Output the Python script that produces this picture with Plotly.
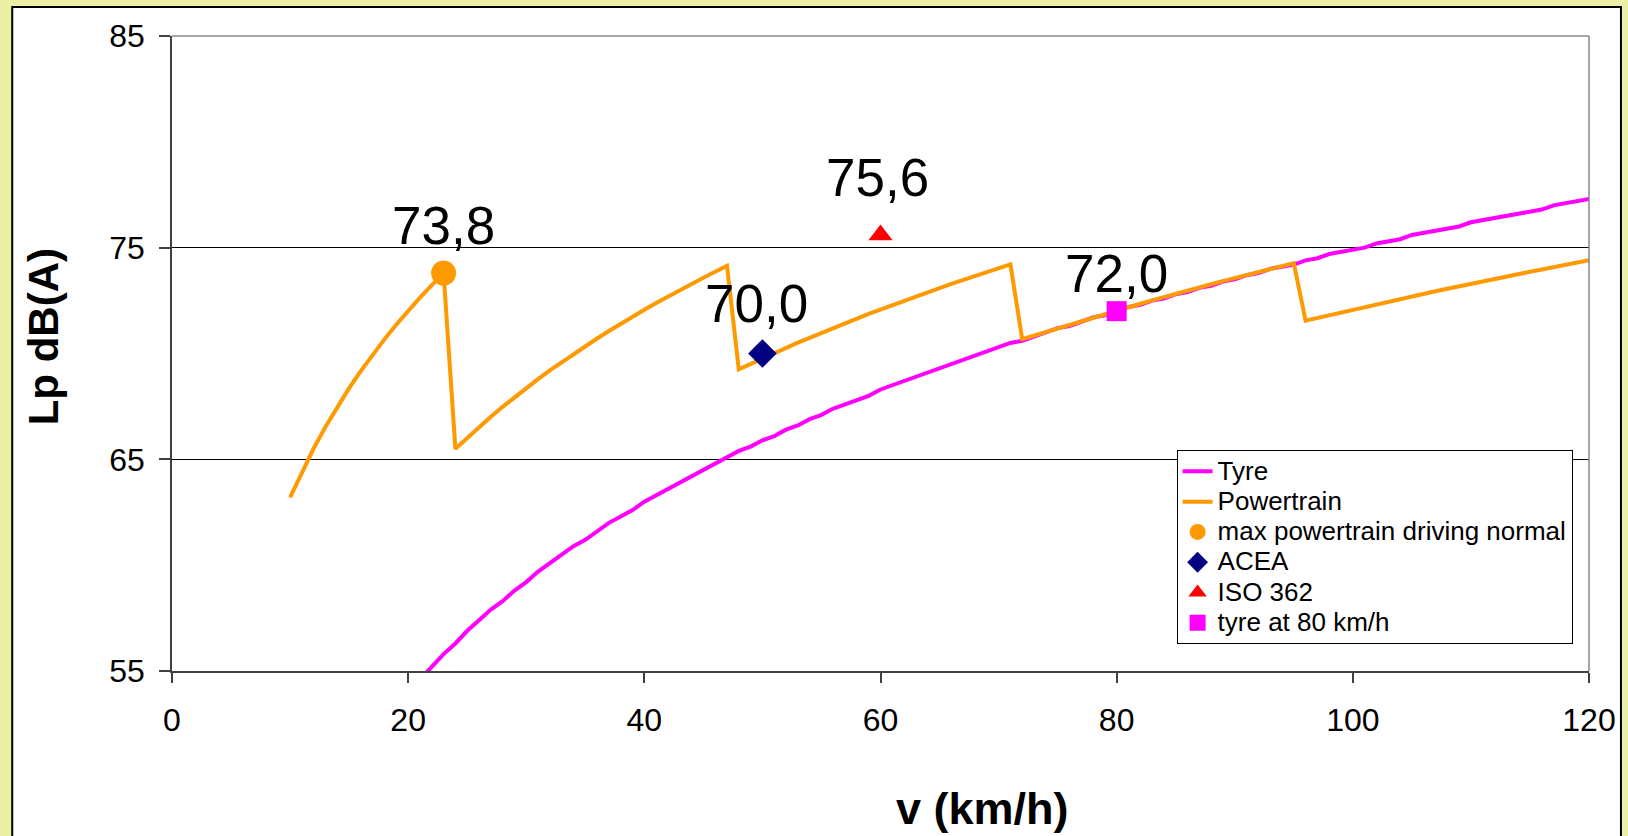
import plotly.graph_objects as go

# Speed grid (km/h)
tyre_speed = list(range(21, 121))
powertrain_speed = list(range(10, 121))

# Tyre/road noise, dB(A)
tyre_db = [
    54.6, 55.2, 55.8, 56.3, 56.9, 57.4, 57.9, 58.3, 58.8, 59.2,
    59.7, 60.1, 60.5, 60.9, 61.2, 61.6, 62.0, 62.3, 62.6, 63.0,
    63.3, 63.6, 63.9, 64.2, 64.5, 64.8, 65.1, 65.4, 65.6, 65.9,
    66.1, 66.4, 66.6, 66.9, 67.1, 67.4, 67.6, 67.8, 68.0, 68.3,
    68.5, 68.7, 68.9, 69.1, 69.3, 69.5, 69.7, 69.9, 70.1, 70.3,
    70.5, 70.6, 70.8, 71.0, 71.2, 71.3, 71.5, 71.7, 71.8, 72.0,
    72.2, 72.3, 72.5, 72.6, 72.8, 72.9, 73.1, 73.2, 73.4, 73.5,
    73.7, 73.8, 74.0, 74.1, 74.2, 74.4, 74.5, 74.7, 74.8, 74.9,
    75.0, 75.2, 75.3, 75.4, 75.6, 75.7, 75.8, 75.9, 76.0, 76.2,
    76.3, 76.4, 76.5, 76.6, 76.7, 76.8, 77.0, 77.1, 77.2, 77.3,
]

# Powertrain noise through the gears, dB(A)
powertrain_db = [
    # 10-23 km/h
    63.20, 64.41, 65.52, 66.54, 67.48, 68.36, 69.18, 69.95, 70.68, 71.37,
    72.02, 72.64, 73.23, 73.80,
    # 24-47 km/h
    65.50, 66.02, 66.53, 67.01, 67.48, 67.93, 68.37, 68.79, 69.20, 69.59,
    69.98, 70.35, 70.71, 71.06, 71.41, 71.74, 72.07, 72.38, 72.69, 73.00,
    73.29, 73.58, 73.86, 74.14,
    # 48-71 km/h
    69.25, 69.51, 69.77, 70.02, 70.27, 70.51, 70.74, 70.98, 71.21, 71.43,
    71.65, 71.87, 72.08, 72.29, 72.50, 72.70, 72.90, 73.09, 73.29, 73.48,
    73.67, 73.85, 74.03, 74.21,
    # 72-95 km/h
    70.68, 70.85, 71.03, 71.20, 71.37, 71.54, 71.70, 71.87, 72.03, 72.20,
    72.35, 72.51, 72.67, 72.82, 72.97, 73.13, 73.27, 73.42, 73.57, 73.71,
    73.85, 73.99, 74.13, 74.27,
    # 96-120 km/h
    71.55, 71.68, 71.81, 71.94, 72.07, 72.20, 72.33, 72.45, 72.58, 72.70,
    72.82, 72.94, 73.06, 73.18, 73.29, 73.41, 73.53, 73.64, 73.75, 73.86,
    73.97, 74.08, 74.19, 74.30, 74.41,
]

# Reference operating points
point_names = ["max powertrain driving normal", "ACEA", "ISO 362", "tyre at 80 km/h"]
point_speed = [23, 50, 60, 80]
point_db = [73.8, 70.0, 75.6, 72.0]

x_ticks = [0, 20, 40, 60, 80, 100, 120]
y_ticks = [55, 65, 75, 85]

# Marker styles and label offsets (px) for the reference points
point_symbol = ["circle", "diamond", "triangle-up", "square"]
point_color = ["#FF9900", "#000080", "#FF0000", "#FF00FF"]
point_size = [25, 22, 21, 20]
label_dx = [0, -6, -3, 0]
label_dy = [48, 50, 57, 38]

FONT = "Arial, Liberation Sans, sans-serif"

# Pixel layout of the plot area inside the 1628x836 canvas
W, H = 1628, 836
PL, PR, PT, PB = 172, 1591, 36, 670.7


def px(x):
    return (x - PL) / (PR - PL)


def py(y):
    return (PB - y) / (PB - PT)


def legend_label(text):
    # 26px legend text on compact (21px) legend rows
    return f'<span style="font-size:26px">{text}</span>'


fig = go.Figure()

fig.add_trace(go.Scatter(
    x=tyre_speed, y=tyre_db, mode="lines", name=legend_label("Tyre"),
    line=dict(color="#FF00FF", width=4),
))
fig.add_trace(go.Scatter(
    x=powertrain_speed, y=powertrain_db, mode="lines",
    name=legend_label("Powertrain"),
    line=dict(color="#FF9900", width=4),
))

for i, name in enumerate(point_names):
    fig.add_trace(go.Scatter(
        x=[point_speed[i]], y=[point_db[i]], mode="markers",
        name=legend_label(name),
        marker=dict(symbol=point_symbol[i], color=point_color[i],
                    size=point_size[i], line=dict(width=0)),
        cliponaxis=False,
    ))
    fig.add_annotation(
        x=point_speed[i], y=point_db[i], xref="x", yref="y",
        text=f"{point_db[i]:.1f}".replace(".", ","),
        showarrow=False, xanchor="center", yanchor="middle",
        xshift=label_dx[i], yshift=label_dy[i],
        font=dict(family=FONT, size=53, color="#000000"),
    )

# Axis titles
fig.add_annotation(
    x=px(984), y=py(808), xref="paper", yref="paper",
    text="<b>v (km/h)</b>", showarrow=False,
    xanchor="center", yanchor="middle",
    font=dict(family=FONT, size=45, color="#000000"),
)
fig.add_annotation(
    x=px(43), y=py(337), xref="paper", yref="paper",
    text="<b>Lp dB(A)</b>", showarrow=False, textangle=-90,
    xanchor="center", yanchor="middle",
    font=dict(family=FONT, size=42, color="#000000"),
)

# White chart panel framed in black
fig.add_shape(
    type="rect", xref="paper", yref="paper",
    x0=px(12), x1=px(1623), y0=py(845), y1=py(7),
    fillcolor="#FFFFFF", line=dict(color="#000000", width=2), layer="below",
)
# Grey frame on the top and right of the plot area
fig.add_shape(type="line", xref="paper", yref="paper", x0=0, x1=1, y0=1, y1=1,
              line=dict(color="#888888", width=1.5))
fig.add_shape(type="line", xref="paper", yref="paper", x0=1, x1=1, y0=0, y1=1,
              line=dict(color="#888888", width=1.5))

fig.update_layout(
    width=W, height=H,
    margin=dict(l=PL, r=W - PR, t=PT, b=H - PB, pad=0),
    paper_bgcolor="#ECEFA6",
    plot_bgcolor="#FFFFFF",
    font=dict(family=FONT, color="#000000"),
    showlegend=True,
    legend=dict(
        x=px(1178), y=py(450), xanchor="left", yanchor="top",
        bgcolor="#FFFFFF", bordercolor="#000000", borderwidth=1,
        font=dict(family=FONT, size=21, color="#000000"),
        tracegroupgap=0, itemwidth=30,
    ),
    xaxis=dict(
        range=[0, 120], tickvals=x_ticks, ticktext=[str(v) for v in x_ticks],
        showgrid=False, zeroline=False,
        showline=True, linecolor="#404040", linewidth=1.5,
        ticks="outside", ticklen=10, tickcolor="#404040", tickwidth=1.5,
        tickfont=dict(family=FONT, size=32, color="#000000"),
        ticklabelstandoff=10,
    ),
    yaxis=dict(
        range=[55, 85], tickvals=y_ticks, ticktext=[str(v) for v in y_ticks],
        showgrid=True, gridcolor="#000000", gridwidth=1, zeroline=False,
        showline=True, linecolor="#404040", linewidth=1.5,
        ticks="outside", ticklen=11, tickcolor="#404040", tickwidth=1.5,
        tickfont=dict(family=FONT, size=32, color="#000000"),
        ticklabelstandoff=8,
    ),
)

fig.write_html("out.html")
